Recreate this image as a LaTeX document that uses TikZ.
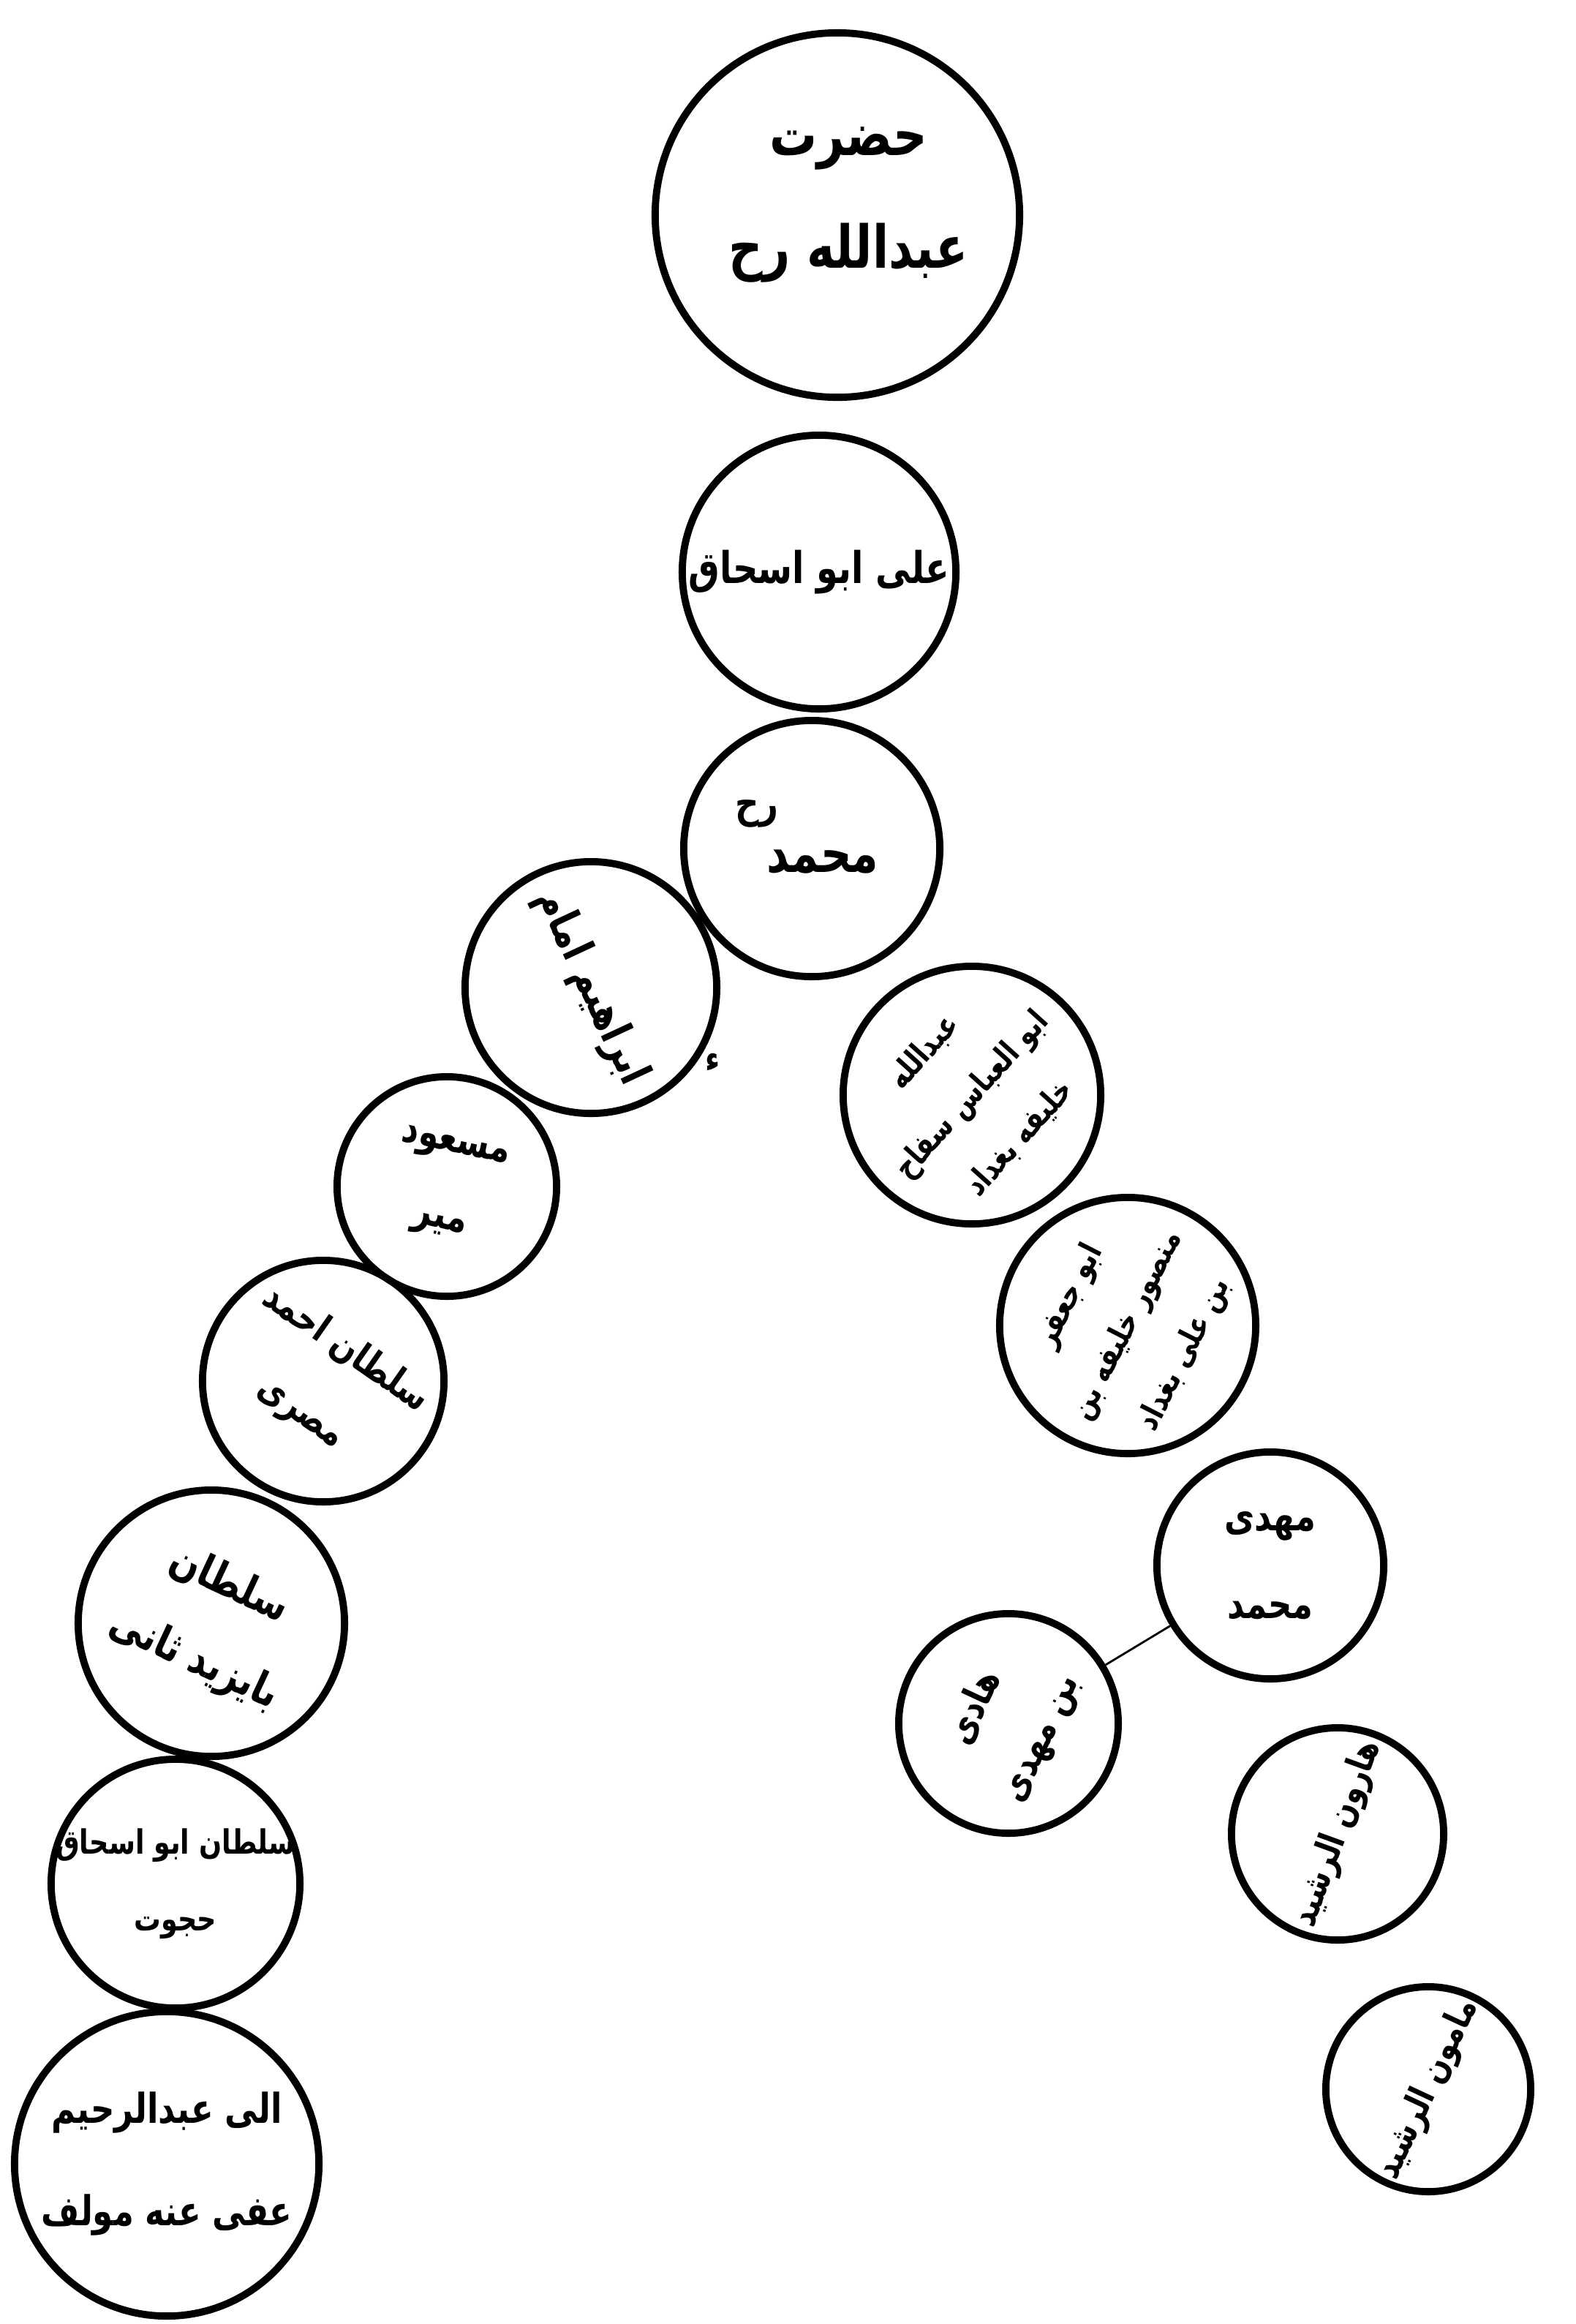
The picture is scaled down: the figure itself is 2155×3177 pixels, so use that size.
\documentclass[tikz,border=0pt]{standalone}
\usepackage{graphicx}
\usepackage{fontspec}
\newfontfamily\urdufont[Script=Arabic]{DejaVu Sans}
\TeXXeTstate=1
\newcommand{\ur}[1]{\scalebox{0.8}[1]{\beginR #1\endR}}

\begin{document}
\begin{tikzpicture}[x=0.01cm,y=-0.01cm]
  \tikzset{
    ring/.style={circle, draw, line width=2.8pt, minimum size=#1, inner sep=0pt},
    urdu/.style 2 args={font=\urdufont\bfseries\fontsize{#1}{#2}\selectfont, align=center, inner sep=0pt},
  }
  \useasboundingbox (0,0) rectangle (2155,3177);

  % --- trunk ---
  \node[ring=4.98cm] (hazrat) at (1145,294) {};
  \node[urdu={23}{44}] (hazrat-t) at (1160,280) {\ur{حضرت}\\ \ur{عبدالله رح}};
  \node[ring=3.74cm] (ali) at (1120,782) {};
  \node[urdu={17}{24}] (ali-t) at (ali) {\ur{علی ابو اسحاق}};
  \node[ring=3.5cm] (muhammad) at (1110,1160) {};
  \node[urdu={21}{26}] (muhammad-t) at (1125,1178) {\ur{محمد}};
  \node[urdu={16}{18}] (muhammad-rh) at (1035,1112) {\ur{رح}};

  % --- left branch ---
  \node[ring=3.44cm] (ibrahim) at (808,1350) {};
  \node[urdu={17}{24}, rotate=-65] (ibrahim-t) at (ibrahim) {\ur{ابراهیم امام}};
  \node[urdu={14}{16}] (hamza) at (975,1452) {\ur{ء}};
  \node[ring=3.0cm] (masud) at (611,1622) {};
  \node[urdu={16}{30}, rotate=-12] (masud-t) at (masud) {\ur{مسعود}\\ \ur{میر}};
  \node[ring=3.3cm] (ahmad) at (442,1888) {};
  \node[urdu={15}{30}, rotate=-35] (ahmad-t) at (ahmad) {\ur{سلطان احمد}\\ \ur{مصری}};
  \node[ring=3.64cm] (bayazid) at (289,2219) {};
  \node[urdu={17}{32}, rotate=-25] (bayazid-t) at (bayazid) {\ur{سلطان}\\ \ur{بایزید ثانی}};
  \node[ring=3.4cm] (abuishaq) at (240,2575) {};
  \node[urdu={13}{30}] (abuishaq-t) at (abuishaq) {\ur{سلطان ابو اسحاق}\\ \ur{حجوت}};
  \node[ring=4.16cm] (abdurrahim) at (228,2958) {};
  \node[urdu={16}{40}] (abdurrahim-t) at (abdurrahim) {\ur{الی عبدالرحیم}\\ \ur{عفی عنه مولف}};

  % --- right branch ---
  \node[ring=3.52cm] (saffah) at (1329,1497) {};
  \node[urdu={12.5}{25}, rotate=48] (saffah-t) at (saffah) {\ur{عبدالله}\\ \ur{ابو العباس سفاح}\\ \ur{خلیفه بغداد}};
  \node[ring=3.5cm] (mansur) at (1542,1812) {};
  \node[urdu={12.5}{25}, rotate=63] (mansur-t) at (mansur) {\ur{ابو جعفر}\\ \ur{منصور خلیفه بن}\\ \ur{بن علی بغداد}};
  \node[ring=3.1cm] (mahdi) at (1737,2140) {};
  \node[urdu={16}{34}] (mahdi-t) at (mahdi) {\ur{مهدی}\\ \ur{محمد}};
  \node[ring=3.0cm] (hadi) at (1379,2356) {};
  \node[urdu={15}{28}, rotate=65] (hadi-t) at (hadi) {\ur{هادی}\\ \ur{بن مهدی}};
  \node[ring=2.9cm] (harun) at (1829,2507) {};
  \node[urdu={14}{22}, rotate=70] (harun-t) at (harun) {\ur{هارون الرشید}};
  \node[ring=2.8cm] (mamun) at (1953,2856) {};
  \node[urdu={14}{22}, rotate=65] (mamun-t) at (mamun) {\ur{مامون الرشید}};

  \draw[line width=0.8pt] (hadi) -- (mahdi);
\end{tikzpicture}
\end{document}
